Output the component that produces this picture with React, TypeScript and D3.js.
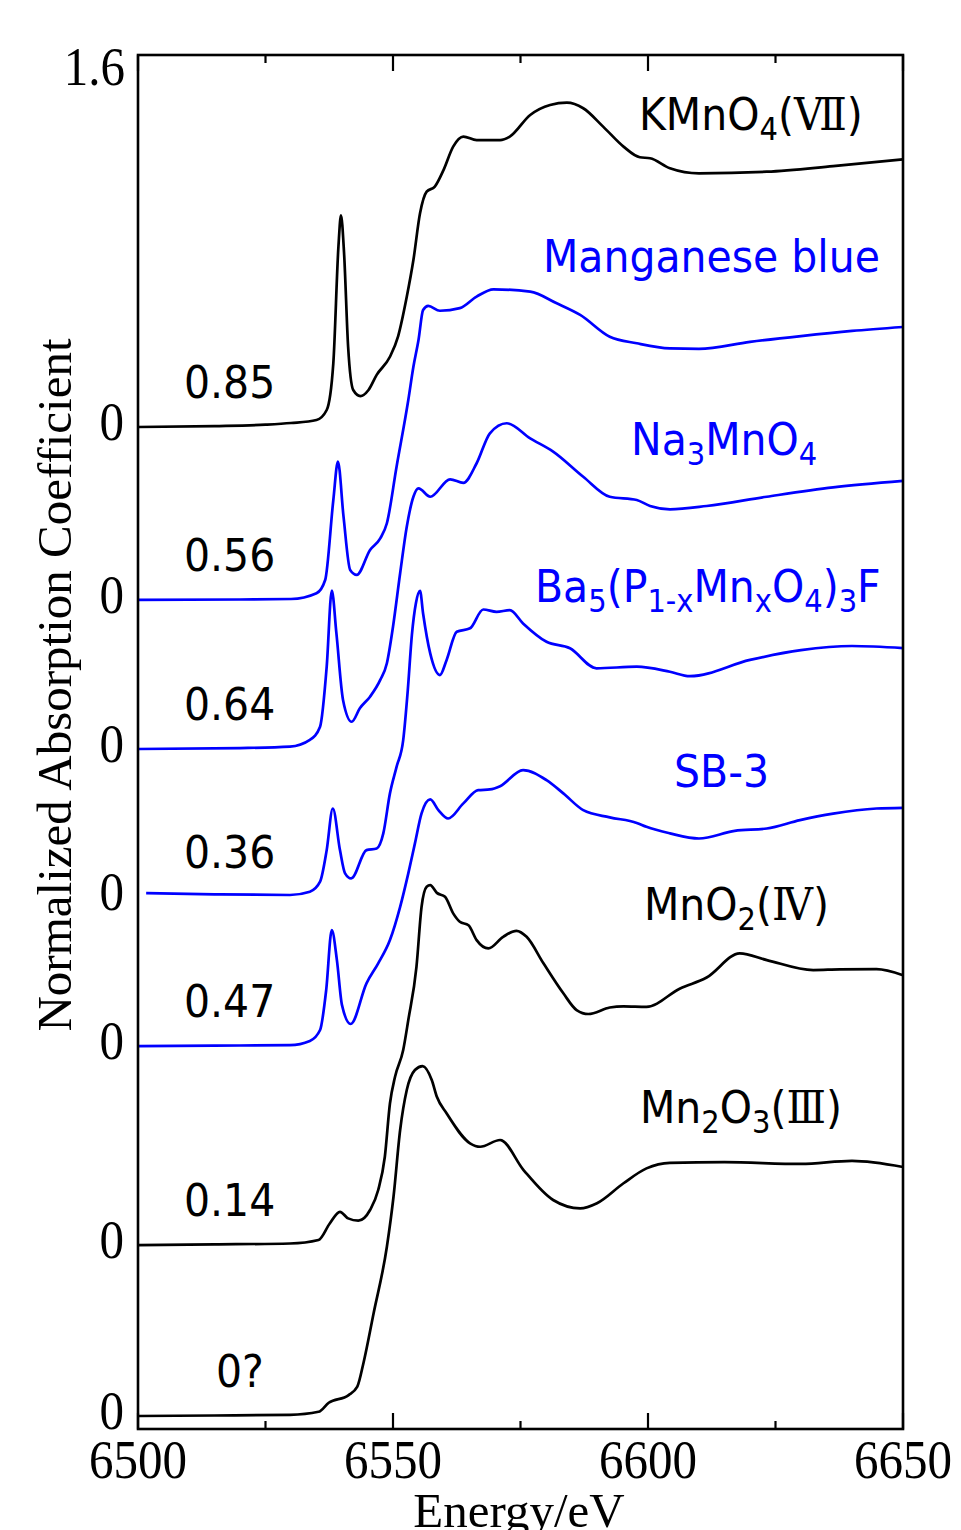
import React from 'react';
import * as d3 from 'd3';

// energy (eV) vs normalized absorption, each spectrum
const kmno4: [number, number][] = [
  [6500, 0], [6515, 0.004], [6525, 0.01], [6530, 0.017], [6535, 0.03], [6537, 0.073],
  [6538.3, 0.275], [6539.3, 0.776], [6539.8, 0.91], [6540.4, 0.75], [6541.2, 0.345],
  [6542.2, 0.159], [6543.6, 0.133], [6545.2, 0.159], [6546.8, 0.224], [6549.4, 0.302],
  [6551, 0.39], [6552.7, 0.56], [6554, 0.718], [6555.3, 0.919], [6556.6, 1.012],
  [6558.2, 1.034], [6559.9, 1.105], [6561.8, 1.206], [6563.8, 1.249], [6566.4, 1.234],
  [6571, 1.234], [6572.9, 1.249], [6576.9, 1.342], [6580.8, 1.385], [6584.1, 1.395],
  [6587.3, 1.371], [6591.2, 1.292], [6595.2, 1.206], [6598.4, 1.16], [6600.4, 1.156],
  [6604.3, 1.113], [6610, 1.091], [6623.3, 1.098], [6636.3, 1.122], [6650, 1.151],
];

const manganeseBlue: [number, number][] = [
  [6500, 0], [6520, 0.002], [6530, 0.004], [6535, 0.029], [6536.7, 0.086], [6538.3, 0.43],
  [6539.2, 0.595], [6540.3, 0.358], [6541.6, 0.129], [6542.9, 0.108], [6545.5, 0.215],
  [6547.5, 0.265], [6548.8, 0.33], [6550.7, 0.573], [6553, 0.86], [6554, 1.003],
  [6555, 1.118], [6555.9, 1.247], [6556.9, 1.265], [6559.2, 1.244], [6563.1, 1.255],
  [6566.4, 1.305], [6569.7, 1.336], [6576.9, 1.326], [6582.1, 1.276], [6586.7, 1.226],
  [6592.5, 1.132], [6597.8, 1.104], [6604.3, 1.082], [6610, 1.08], [6620, 1.11],
  [6630, 1.135], [6640, 1.157], [6650, 1.174],
];

const na3mno4: [number, number][] = [
  [6500, 0], [6520, 0.004], [6529.8, 0.01], [6533.7, 0.039], [6535.7, 0.096], [6537, 0.354],
  [6538, 0.681], [6538.9, 0.498], [6540.2, 0.211], [6541.9, 0.117], [6543.5, 0.175],
  [6545.5, 0.225], [6547.5, 0.297], [6548.8, 0.369], [6550, 0.526], [6551.4, 0.756],
  [6552.7, 0.956], [6554, 1.085], [6555, 1.121], [6557.3, 1.085], [6561.2, 1.16],
  [6563.8, 1.145], [6566.4, 1.229], [6569, 1.358], [6572.3, 1.401], [6576.9, 1.336],
  [6581.4, 1.279], [6587.3, 1.171], [6592.5, 1.085], [6597.8, 1.071], [6600.4, 1.045],
  [6604.3, 1.031], [6611.5, 1.045], [6623.3, 1.085], [6636.3, 1.125], [6650, 1.153],
];

const ba5: [number, number][] = [
  [6501.6, 0.017], [6515, 0.012], [6529.8, 0.009], [6533.7, 0.023], [6535.7, 0.066],
  [6537, 0.202], [6538.2, 0.381], [6539.6, 0.202], [6540.6, 0.102], [6541.8, 0.08],
  [6544.8, 0.202], [6546.8, 0.209], [6548.1, 0.274], [6549.4, 0.446], [6550.7, 0.56],
  [6552, 0.675], [6552.9, 0.89], [6553.7, 1.127], [6554.5, 1.265], [6555.3, 1.317],
  [6555.9, 1.22], [6557.3, 1.048], [6559.2, 0.955], [6560.5, 1.019], [6562.5, 1.141],
  [6565.1, 1.156], [6567.7, 1.237], [6570.3, 1.227], [6572.9, 1.234], [6575.5, 1.177],
  [6580.1, 1.098], [6584.7, 1.07], [6589.9, 0.984], [6597.8, 0.991], [6604.3, 0.969],
  [6608.2, 0.95], [6620, 1.02], [6630, 1.062], [6640, 1.08], [6650, 1.071],
];

const sb3: [number, number][] = [
  [6500, 0], [6515, 0.002], [6529.8, 0.004], [6533.7, 0.022], [6535.7, 0.069], [6536.9, 0.241],
  [6538, 0.499], [6539, 0.37], [6540, 0.176], [6541.7, 0.095], [6544.8, 0.27],
  [6547.1, 0.356], [6549.4, 0.456], [6551.4, 0.599], [6553, 0.743], [6554.3, 0.872],
  [6555.6, 1.001], [6557.3, 1.061], [6558.9, 1.015], [6560.8, 0.979], [6563.8, 1.044],
  [6566.7, 1.101], [6569, 1.104], [6571, 1.118], [6575.5, 1.187], [6580.1, 1.144],
  [6583.4, 1.087], [6587.3, 1.015], [6592.5, 0.984], [6597.8, 0.96], [6599.7, 0.943],
  [6604.3, 0.915], [6610, 0.893], [6617, 0.926], [6623.3, 0.936], [6629.8, 0.972],
  [6636.3, 1.0], [6644.8, 1.022], [6650, 1.025],
];

const mno2: [number, number][] = [
  [6500, 0], [6515, 0.003], [6529.8, 0.007], [6535.4, 0.022], [6537.6, 0.093], [6539.6, 0.143],
  [6541.2, 0.115], [6543.2, 0.105], [6545.5, 0.151], [6547.1, 0.237], [6548.4, 0.38],
  [6549.4, 0.609], [6550.4, 0.724], [6552, 0.839], [6553, 0.968], [6554.6, 1.197],
  [6555.6, 1.455], [6556.6, 1.541], [6557.3, 1.548], [6558.6, 1.515], [6560.2, 1.498],
  [6561.8, 1.427], [6563.1, 1.391], [6564.8, 1.376], [6566.4, 1.312], [6568.7, 1.276],
  [6571.6, 1.326], [6574.2, 1.352], [6576.2, 1.326], [6579.5, 1.212], [6583.4, 1.083],
  [6586, 1.011], [6588.3, 0.994], [6592.5, 1.022], [6595.2, 1.027], [6599.7, 1.025],
  [6606.3, 1.104], [6611.5, 1.151], [6618, 1.255], [6623.3, 1.226], [6632.4, 1.183],
  [6637.6, 1.186], [6644.8, 1.187], [6650, 1.161],
];

const mn2o3: [number, number][] = [
  [6500, 0], [6515, 0.002], [6529.8, 0.005], [6535.4, 0.018], [6537.4, 0.057], [6541.3, 0.09],
  [6543, 0.126], [6544.2, 0.227], [6546.2, 0.442], [6548.8, 0.728], [6550.1, 0.943],
  [6551.4, 1.23], [6552.7, 1.402], [6554.3, 1.488], [6555.8, 1.505], [6557.6, 1.445],
  [6558.6, 1.373], [6560.5, 1.302], [6565.1, 1.173], [6567.1, 1.158], [6571, 1.187],
  [6575.6, 1.058], [6581.4, 0.929], [6586.7, 0.893], [6590, 0.915], [6595.2, 1.001],
  [6599.7, 1.065], [6604.3, 1.089], [6615, 1.092], [6630, 1.084], [6640, 1.097], [6650, 1.071],
];

const spectra = [kmno4, manganeseBlue, na3mno4, ba5, sb3, mno2, mn2o3];
const offsets = [4.254, 3.51, 2.869, 2.232, 1.591, 0.735, 0];
const colors = ['#000000', '#0000ff', '#0000ff', '#0000ff', '#0000ff', '#000000', '#000000'];
const preEdge = ['0.85', '0.56', '0.64', '0.36', '0.47', '0.14', '0?'];
// sample names; "_" marks a subscript piece, "^" a roman numeral
const names = [
  ['KMnO', '_4', '(', '^Ⅶ', ')'],
  ['Manganese blue'],
  ['Na', '_3', 'MnO', '_4'],
  ['Ba', '_5', '(P', '_1-x', 'Mn', '_x', 'O', '_4', ')', '_3', 'F'],
  ['SB-3'],
  ['MnO', '_2', '(', '^Ⅳ', ')'],
  ['Mn', '_2', 'O', '_3', '(', '^Ⅲ', ')'],
];
const topTick = 1.6;

const sans = 'DejaVu Sans, Verdana, sans-serif';
const serif = 'Liberation Serif, Times New Roman, serif';
const roman = 'DejaVu Serif, serif';

function Label({ x, y, color = '#000', parts }: { x: number; y: number; color?: string; parts: string[] }) {
  let low = false;
  return (
    <text transform={`translate(${x},${y}) scale(1,1.1)`} fontFamily={sans} fontSize={41} fill={color}>
      {parts.map((p, i) => {
        const sub = p[0] === '_';
        const rom = p[0] === '^';
        const dy = sub && !low ? 9 : !sub && low ? -9 : 0;
        low = sub;
        return (
          <tspan key={i} dy={dy} fontSize={sub ? 29 : 41} fontFamily={rom ? roman : undefined}>
            {sub || rom ? p.slice(1) : p}
          </tspan>
        );
      })}
    </text>
  );
}

export default function App() {
  const W = 961, H = 1530;
  const left = 138, right = 903, top = 55, bottom = 1429;

  const x = d3.scaleLinear().domain([6500, 6650]).range([left, right]);
  const y = d3.scaleLinear().domain([-0.056, offsets[0] + topTick]).range([bottom, top]);

  const xTicks = d3.range(6500, 6651, 25);
  const nameX = [639, 543, 631, 535, 674, 644, 640];
  const nameY = [130, 272, 455, 602, 787, 920, 1123];

  return (
    <svg width={W} height={H} style={{ position: 'absolute', left: 0, top: 0, background: '#fff' }}>
      {spectra.map((s, i) => {
        const line = d3.line<[number, number]>()
          .x(d => x(d[0]))
          .y(d => y(d[1] + offsets[i]))
          .curve(d3.curveMonotoneX);
        return <path key={i} d={line(s) || ''} fill="none" stroke={colors[i]} strokeWidth={2.7} strokeLinejoin="round" />;
      })}

      {/* frame */}
      <rect x={left} y={top} width={right - left} height={bottom - top} fill="none" stroke="#000" strokeWidth={2.6} />
      {xTicks.map(t => {
        const len = t % 50 === 0 ? 16 : 8;
        return (
          <g key={t}>
            <line x1={x(t)} x2={x(t)} y1={bottom} y2={bottom - len} stroke="#000" strokeWidth={2.2} />
            <line x1={x(t)} x2={x(t)} y1={top} y2={top + len} stroke="#000" strokeWidth={2.2} />
          </g>
        );
      })}
      {xTicks.filter(t => t % 50 === 0).map(t => (
        <text key={'l' + t} transform={`translate(${x(t)},1478) scale(1,1.13)`} textAnchor="middle"
          fontFamily={serif} fontSize={49}>{t}</text>
      ))}

      {/* y tick labels: zero line of each spectrum */}
      {offsets.map((o, i) => (
        <text key={'z' + i} transform={`translate(124,${y(o) + 13}) scale(1,1.13)`} textAnchor="end"
          fontFamily={serif} fontSize={49}>0</text>
      ))}
      <text transform={`translate(125,${y(offsets[0] + topTick) + 30}) scale(1,1.13)`} textAnchor="end"
        fontFamily={serif} fontSize={49}>{topTick.toFixed(1)}</text>

      <text transform="translate(71,685) rotate(-90)" textAnchor="middle" fontFamily={serif} fontSize={49}>
        Normalized Absorption Coefficient
      </text>
      <text x={519} y={1527} textAnchor="middle" fontFamily={serif} fontSize={49}>Energy/eV</text>

      {/* pre-edge intensities */}
      {preEdge.map((p, i) => (
        <Label key={'p' + i} x={p === '0?' ? 216 : 184} y={y(offsets[i]) - 29} parts={[p]} />
      ))}

      {/* sample names */}
      {names.map((n, i) => (
        <Label key={'n' + i} x={nameX[i]} y={nameY[i]} color={colors[i]} parts={n} />
      ))}
    </svg>
  );
}
